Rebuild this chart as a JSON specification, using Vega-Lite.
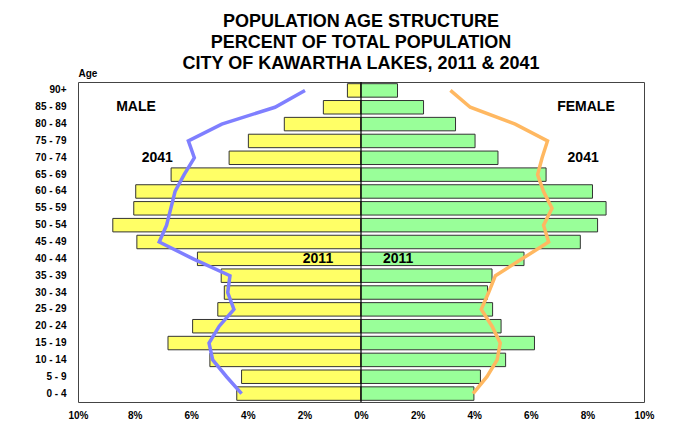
{
  "$schema": "https://vega.github.io/schema/vega-lite/v6.json",
  "width": 566,
  "height": 320,
  "autosize": "none",
  "padding": {"left": 78, "top": 82, "right": 37, "bottom": 37},
  "background": "white",
  "title": {
    "text": ["POPULATION AGE STRUCTURE", "PERCENT OF TOTAL POPULATION", "CITY OF KAWARTHA LAKES, 2011 & 2041"],
    "font": "Liberation Sans",
    "fontSize": 18,
    "fontWeight": "bold",
    "lineHeight": 21,
    "anchor": "middle",
    "offset": -5,
    "color": "black"
  },
  "config": {
    "view": {"stroke": "#444", "strokeWidth": 1},
    "axis": {"labelFont": "Liberation Sans", "labelFontWeight": "bold", "labelColor": "black", "titleFont": "Liberation Sans"}
  },
  "datasets": {
    "pop": [
      {"age": "0 - 4", "ord": 1, "m2011": -4.39, "f2011": 3.99, "m2041": -4.22, "f2041": 3.96},
      {"age": "5 - 9", "ord": 2, "m2011": -4.22, "f2011": 4.22, "m2041": -4.75, "f2041": 4.45},
      {"age": "10 - 14", "ord": 3, "m2011": -5.34, "f2011": 5.11, "m2041": -5.24, "f2041": 4.81},
      {"age": "15 - 19", "ord": 4, "m2011": -6.82, "f2011": 6.13, "m2041": -5.37, "f2041": 4.92},
      {"age": "20 - 24", "ord": 5, "m2011": -5.95, "f2011": 4.95, "m2041": -5.01, "f2041": 4.63},
      {"age": "25 - 29", "ord": 6, "m2011": -5.06, "f2011": 4.65, "m2041": -4.49, "f2041": 4.25},
      {"age": "30 - 34", "ord": 7, "m2011": -4.83, "f2011": 4.47, "m2041": -4.71, "f2041": 4.51},
      {"age": "35 - 39", "ord": 8, "m2011": -4.94, "f2011": 4.63, "m2041": -4.63, "f2041": 4.75},
      {"age": "40 - 44", "ord": 9, "m2011": -5.78, "f2011": 5.76, "m2041": -5.93, "f2041": 5.69},
      {"age": "45 - 49", "ord": 10, "m2011": -7.92, "f2011": 7.75, "m2041": -7.13, "f2041": 6.63},
      {"age": "50 - 54", "ord": 11, "m2011": -8.77, "f2011": 8.36, "m2041": -6.87, "f2041": 6.45},
      {"age": "55 - 59", "ord": 12, "m2011": -8.03, "f2011": 8.66, "m2041": -6.72, "f2041": 6.75},
      {"age": "60 - 64", "ord": 13, "m2011": -7.96, "f2011": 8.18, "m2041": -6.57, "f2041": 6.45},
      {"age": "65 - 69", "ord": 14, "m2011": -6.71, "f2011": 6.54, "m2041": -6.25, "f2041": 6.24},
      {"age": "70 - 74", "ord": 15, "m2011": -4.66, "f2011": 4.84, "m2041": -5.89, "f2041": 6.40},
      {"age": "75 - 79", "ord": 16, "m2011": -3.98, "f2011": 4.03, "m2041": -6.10, "f2041": 6.59},
      {"age": "80 - 84", "ord": 17, "m2011": -2.71, "f2011": 3.34, "m2041": -4.92, "f2041": 5.45},
      {"age": "85 - 89", "ord": 18, "m2011": -1.33, "f2011": 2.21, "m2041": -3.04, "f2041": 3.86},
      {"age": "90+", "ord": 19, "m2011": -0.48, "f2011": 1.29, "m2041": -1.98, "f2041": 3.16}
    ],
    "notes": [
      {"label": "MALE", "x": -7.95, "age": "85 - 89"},
      {"label": "FEMALE", "x": 7.95, "age": "85 - 89"},
      {"label": "2041", "x": -7.2, "age": "70 - 74"},
      {"label": "2041", "x": 7.85, "age": "70 - 74"}
    ],
    "notes2011": [
      {"label": "2011", "x": -1.52, "age": "40 - 44"},
      {"label": "2011", "x": 1.31, "age": "40 - 44"}
    ]
  },
  "encoding": {
    "y": {
      "field": "age",
      "type": "nominal",
      "scale": {
        "domain": ["90+", "85 - 89", "80 - 84", "75 - 79", "70 - 74", "65 - 69", "60 - 64", "55 - 59", "50 - 54", "45 - 49", "40 - 44", "35 - 39", "30 - 34", "25 - 29", "20 - 24", "15 - 19", "10 - 14", "5 - 9", "0 - 4"],
        "paddingInner": 0.2,
        "paddingOuter": 0.1
      },
      "axis": {
        "title": "Age",
        "titleAngle": 0,
        "titleX": 0,
        "titleY": -4,
        "titleAlign": "left",
        "titleBaseline": "bottom",
        "titleFontSize": 10,
        "titleFontWeight": "bold",
        "titleColor": "black",
        "ticks": false,
        "domain": false,
        "labelFontSize": 10,
        "labelPadding": 12
      }
    }
  },
  "layer": [
    {
      "data": {"name": "pop"},
      "mark": {"type": "bar", "color": "#ffff66", "stroke": "#333", "strokeWidth": 1},
      "encoding": {
        "x": {
          "field": "m2011",
          "type": "quantitative",
          "scale": {"domain": [-10, 10], "nice": false},
          "axis": {
            "title": null,
            "values": [-10, -8, -6, -4, -2, 0, 2, 4, 6, 8, 10],
            "labelExpr": "abs(datum.value) + '%'",
            "labelFontSize": 10,
            "labelPadding": 8,
            "labelFlush": false,
            "ticks": false,
            "domain": false,
            "grid": false
          }
        }
      }
    },
    {
      "data": {"name": "pop"},
      "mark": {"type": "bar", "color": "#99ff99", "stroke": "#333", "strokeWidth": 1},
      "encoding": {"x": {"field": "f2011", "type": "quantitative"}}
    },
    {
      "data": {"values": [{"v": 0}]},
      "mark": {"type": "rule", "color": "black", "strokeWidth": 1.2},
      "encoding": {"x": {"field": "v", "type": "quantitative"}, "y": {"value": 0}, "y2": {"value": 320}}
    },
    {
      "data": {"name": "pop"},
      "mark": {"type": "line", "color": "#7f7fff", "strokeWidth": 3.5},
      "encoding": {"x": {"field": "m2041", "type": "quantitative"}, "order": {"field": "ord"}}
    },
    {
      "data": {"name": "pop"},
      "mark": {"type": "line", "color": "#ffb861", "strokeWidth": 3.5},
      "encoding": {"x": {"field": "f2041", "type": "quantitative"}, "order": {"field": "ord"}}
    },
    {
      "data": {"name": "notes"},
      "mark": {"type": "text", "font": "Liberation Sans", "fontWeight": "bold", "fontSize": 14, "color": "black"},
      "encoding": {"x": {"field": "x", "type": "quantitative"}, "text": {"field": "label"}}
    },
    {
      "data": {"name": "notes2011"},
      "mark": {"type": "text", "font": "Liberation Sans", "fontWeight": "bold", "fontSize": 14, "color": "black"},
      "encoding": {"x": {"field": "x", "type": "quantitative"}, "text": {"field": "label"}}
    }
  ]
}
